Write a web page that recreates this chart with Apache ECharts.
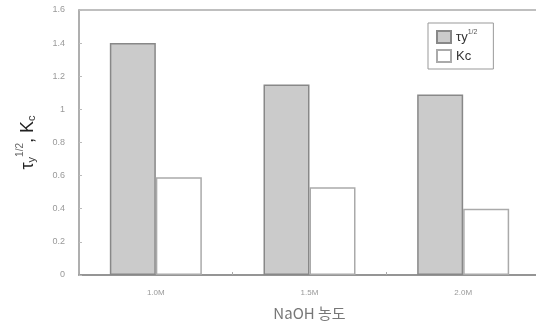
<!DOCTYPE html>
<html>
<head>
<meta charset="utf-8">
<script src="https://cdn.jsdelivr.net/npm/echarts@6/dist/echarts.min.js"></script>
<style>
html,body{margin:0;padding:0;background:#fff;overflow:hidden;width:536px;height:326px;}
#c{width:550px;height:326px;}
</style>
</head>
<body>
<div id="c"></div>
<script>
const categories = ['1.0M', '1.5M', '2.0M'];
const tyValues = [1.40, 1.15, 1.09];
const kcValues = [0.59, 0.53, 0.40];
const seriesNames = ['Ty', 'Kc'];
const yTicks = { min: 0, max: 1.6, interval: 0.2 };

const chart = echarts.init(document.getElementById('c'), null, { renderer: 'canvas' });
const font = 'Liberation Sans, Arial, sans-serif';
chart.setOption({
  animation: false,
  backgroundColor: '#fff',
  grid: { left: 79, top: 10, width: 461, bottom: 49, show: true, borderColor: '#aaa', borderWidth: 1.5, backgroundColor: 'transparent' },
  legend: {
    orient: 'vertical', left: 428, top: 23,
    icon: 'rect',
    itemWidth: 14, itemHeight: 12, itemGap: 5,
    borderColor: '#999', borderWidth: 1, padding: [6, 16, 6, 8],
    data: seriesNames,
    formatter: n => n === 'Ty' ? '{a|τy}{s|1/2}' : '{a|Kc}',
    textStyle: {
      fontFamily: font, color: '#333',
      rich: {
        a: { fontSize: 13, color: '#333' },
        s: { fontSize: 7, color: '#555', padding: [0, 0, 9, 0] }
      }
    }
  },
  xAxis: {
    type: 'category', data: categories,
    name: 'NaOH 농도', nameLocation: 'middle', nameGap: 31,
    nameTextStyle: { fontFamily: 'Noto Sans CJK KR, sans-serif', fontSize: 15, color: '#777' },
    axisLine: { show: true, lineStyle: { color: '#888', width: 1.5 } },
    axisTick: { show: true, inside: true, length: 3, lineStyle: { color: '#aaa' } },
    axisLabel: { fontFamily: font, fontSize: 8, color: '#999', margin: 14 }
  },
  yAxis: {
    type: 'value', min: yTicks.min, max: yTicks.max, interval: yTicks.interval,
    name: '{t|τ}{sub|y}{sup|1/2}{t|, K}{sub|c}',
    nameLocation: 'middle', nameGap: 38, nameRotate: 90,
    nameTextStyle: {
      fontFamily: font, color: '#222',
      rich: {
        t: { fontSize: 18, color: '#222' },
        sub: { fontSize: 11, color: '#333', padding: [8, 0, 0, 0] },
        sup: { fontSize: 10, color: '#666', padding: [0, 0, 16, 0] }
      }
    },
    splitLine: { show: false },
    axisLine: { show: true, lineStyle: { color: '#aaa', width: 1.5 } },
    axisTick: { show: true, inside: true, length: 3, lineStyle: { color: '#bbb' } },
    axisLabel: { fontFamily: font, fontSize: 9, color: '#999', margin: 14 }
  },
  series: [
    {
      name: seriesNames[0], type: 'bar', data: tyValues, barWidth: 46, barGap: '0%',
      itemStyle: { color: '#cbcbcb', borderColor: '#888', borderWidth: 1.5 }
    },
    {
      name: seriesNames[1], type: 'bar', data: kcValues, barWidth: 46,
      itemStyle: { color: '#ffffff', borderColor: '#aaa', borderWidth: 1.5 }
    }
  ]
});
</script>
</body>
</html>
